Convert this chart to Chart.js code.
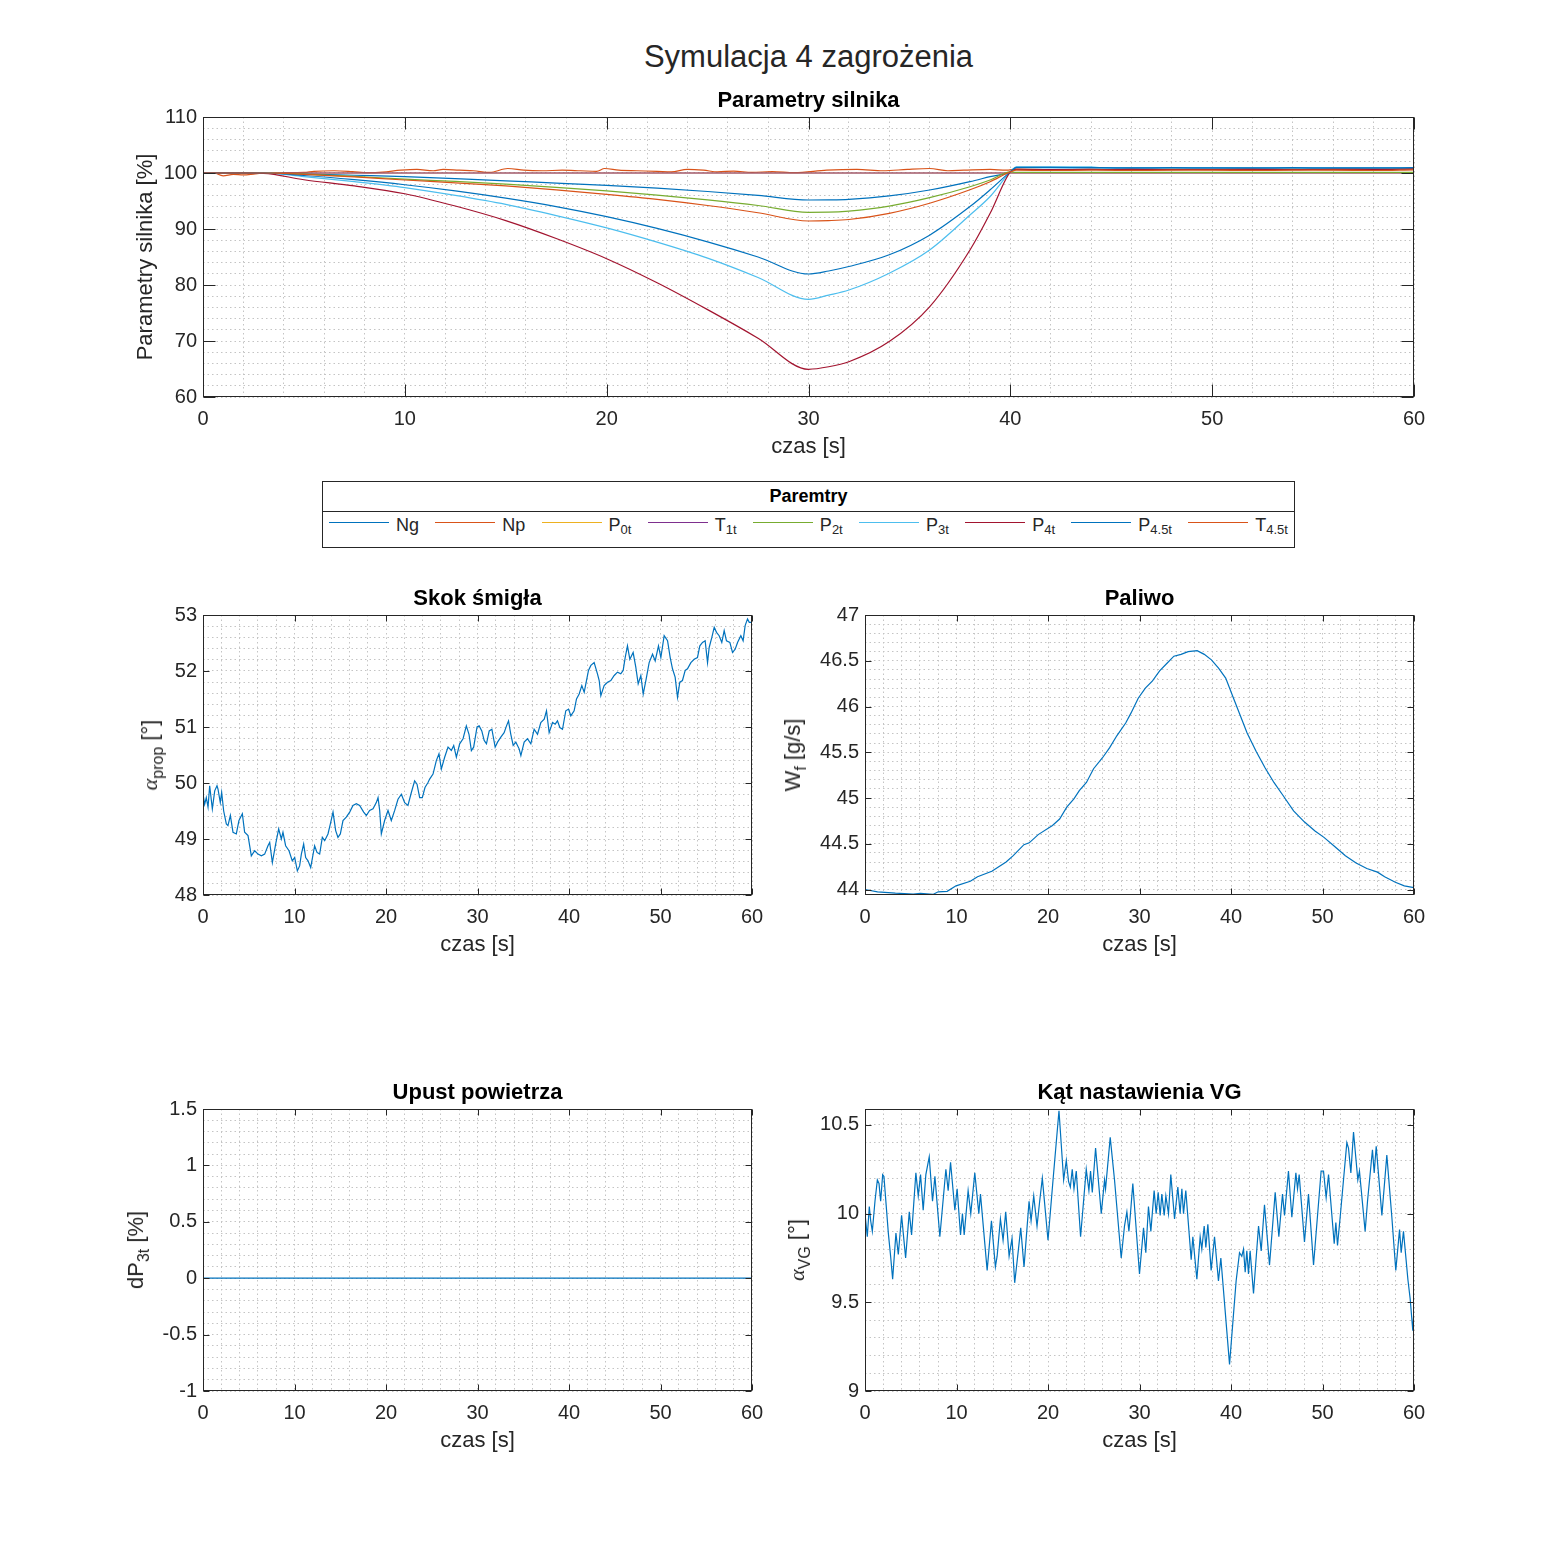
<!DOCTYPE html>
<html lang="pl">
<head>
<meta charset="utf-8">
<title>Symulacja 4 zagrożenia</title>
<script src="https://cdn.jsdelivr.net/npm/chart.js@4.4.1/dist/chart.umd.min.js"></script>
<style>
  html, body { margin: 0; padding: 0; background: #fff; }
  #figura { position: relative; width: 1563px; height: 1563px; overflow: hidden;
            font-family: "Liberation Sans", Arial, Helvetica, sans-serif; color: #262626; }
  .os { position: absolute; }
  .os canvas { display: block; }
  #nadtytul { position: absolute; left: 203px; width: 1211px; top: 39px; text-align: center;
              font-size: 31px; line-height: 36px; color: #262626; }
  .opis-y { position: absolute; transform: translate(-50%, -50%) rotate(-90deg);
            white-space: nowrap; font-size: 22px; line-height: 24px; color: #262626; }
  .opis-y sub { font-size: 16px; vertical-align: -6px; line-height: 0; }
  .grecka { font-family: "Liberation Serif", "DejaVu Serif", serif; font-style: italic; }
  #legenda { position: absolute; left: 322px; top: 481px; width: 973px; height: 67px;
             border: 1px solid #262626; box-sizing: border-box; background: #fff; }
  #legenda .tyt { height: 29px; line-height: 29px; border-bottom: 1px solid #262626; text-align: center;
                  font-weight: bold; font-size: 18px; color: #000; }
  #legenda .wpisy { display: flex; justify-content: space-between; align-items: flex-start;
                    height: 35px; padding: 3px 6px 0 6px; box-sizing: border-box; }
  .wpis { display: flex; align-items: flex-start; font-size: 18px; line-height: 20px; }
  .wpis .kreska { width: 60px; height: 0; border-top: 1.3px solid; margin: 7px 7px 0 0; }
  .wpis sub { font-size: 13px; vertical-align: -3px; line-height: 0; }
</style>
</head>
<body>
<div id="figura">
  <div id="nadtytul">Symulacja 4 zagrożenia</div>
  <div class="os" id="osSilnik"></div>
  <div id="legenda"><div class="tyt">Paremtry</div><div class="wpisy" id="wpisy"></div></div>
  <div class="os" id="osSkok"></div>
  <div class="os" id="osPaliwo"></div>
  <div class="os" id="osUpust"></div>
  <div class="os" id="osVG"></div>
  <div class="opis-y" style="left:150px; top:755px"><span class="grecka">α</span><sub>prop</sub> [°]</div>
  <div class="opis-y" style="left:793px; top:755px">W<sub>f</sub> [g/s]</div>
  <div class="opis-y" style="left:136px; top:1250px">dP<sub>3t</sub> [%]</div>
  <div class="opis-y" style="left:797px; top:1250px"><span class="grecka">α</span><sub>VG</sub> [°]</div>
</div>
<script>
// --- parametry silnika [%] ---
const tSilnik = [0, 2, 3, 5, 7.5, 10, 12.5, 15, 17.5, 20, 22.5, 25, 27.5, 30, 31, 32, 34, 36, 38, 39, 40,
  40.3, 42, 44, 44.5, 46, 48, 50, 52, 54, 56, 58, 60];
const ng = [100, 100, 100, 99.85, 99.6, 99.35, 99.0, 98.6, 98.2, 97.8, 97.3, 96.7, 96.0, 95.18, 95.2, 95.3, 95.9, 96.96, 98.45, 99.35, 100.2,
  100.95, 100.95, 100.95, 100.9, 100.9, 100.9, 100.9, 100.85, 100.85, 100.85, 100.85, 100.9];
const p2t = [100, 100, 100, 99.8, 99.4, 98.9, 98.5, 98.0, 97.45, 96.8, 96.05, 95.2, 94.2, 92.98, 93.0, 93.2, 94.1, 95.6, 97.55, 98.75, 100.2,
  100.1, 100.1, 100.1, 100.1, 100.1, 100.1, 100.1, 100.1, 100.1, 100.1, 100.1, 100.1];
const p3t = [100, 100, 100, 99.35, 98.45, 97.4, 96.0, 94.4, 92.4, 90.2, 87.65, 84.8, 81.35, 77.45, 78.2, 79.1, 82.1, 86.25, 92.5, 95.8, 100.2,
  101.1, 101.1, 101.1, 100.95, 100.9, 100.9, 100.9, 100.9, 100.9, 100.9, 100.9, 100.95];
const p4t = [100, 100, 99.95, 98.8, 97.7, 96.3, 94.1, 91.5, 88.3, 84.7, 80.4, 75.6, 70.5, 64.95, 65.4, 66.3, 69.9, 76.1, 86.25, 92.8, 100.2,
  100.65, 100.6, 100.65, 100.6, 100.7, 100.6, 100.65, 100.7, 100.6, 100.7, 100.65, 100.75];
const p45t = [100, 100, 100, 99.55, 98.8, 97.9, 96.8, 95.5, 94.0, 92.2, 90.1, 87.7, 85.0, 81.96, 82.5, 83.3, 85.4, 88.9, 94.0, 97.0, 100.2,
  101.0, 101.0, 100.95, 100.95, 100.9, 100.95, 100.9, 100.9, 100.95, 100.9, 100.9, 100.95];
const t45t = [100, 100, 100, 99.75, 99.3, 98.75, 98.25, 97.7, 97.0, 96.2, 95.3, 94.2, 92.9, 91.43, 91.5, 91.7, 92.8, 94.6, 97.0, 98.45, 100.2,
  100.5, 100.45, 100.5, 100.5, 100.45, 100.5, 100.5, 100.45, 100.5, 100.5, 100.45, 100.55];
const tNp = [0, 0.5, 1, 1.5, 2, 2.5, 3, 4, 5, 5.5, 6.5, 7.4, 8.2, 8.9, 9.8, 10.6, 11.4, 11.9, 12.7, 13.4,
  14.2, 15.1, 15.9, 16.8, 17.8, 18.7, 19.5, 19.9, 20.6, 21.5, 22.5, 23.2, 24, 24.8, 25.5, 26.3, 27.2, 28.2, 29.3, 30.9,
  32.4, 33.7, 34.9, 36, 36.9, 37.7, 39, 39.8, 40.3, 42, 44, 46, 48, 50, 52, 54, 56, 58, 60];
const np = [100, 100.05, 99.5, 99.75, 99.65, 99.8, 100, 100.05, 100.1, 100.3, 100.4, 100.25, 100.05, 100.15, 100.5, 100.65, 100.4, 100.65, 100.5, 100.4,
  100.1, 100.8, 100.5, 100.4, 100.5, 100.4, 100.3, 100.8, 100.5, 100.4, 100.3, 100.2, 100.65, 100.5, 100.2, 100.35, 100.1, 100.25, 100.05, 100.5,
  100.65, 100.4, 100.65, 100.8, 100.4, 100.5, 100.65, 100.5, 100.7, 100.6, 100.65, 100.6, 100.7, 100.6, 100.65, 100.7, 100.6, 100.7, 100.75];
const tStale = [0, 60];
const p0t = [100, 100];
const t1t = [100, 100];

const nazwy = ['Ng', 'Np', 'P', 'T', 'P', 'P', 'P', 'P', 'T'];
const indeksy = ['', '', '0t', '1t', '2t', '3t', '4t', '4.5t', '4.5t'];
const kolory = ['#0072BD', '#D95319', '#EDB120', '#7E2F8E', '#77AC30', '#4DBEEE', '#A2142F', '#0072BD', '#D95319'];

// --- skok smigla [deg] ---
const tSkok = [0, 0.18, 0.36, 0.55, 0.73, 1.02, 1.28, 1.53, 1.64, 1.89, 2.04, 2.26, 2.55, 2.73, 2.99, 3.28, 3.64, 3.93, 4.30, 4.55,
  4.92, 5.28, 5.65, 6.01, 6.38, 6.74, 7.10, 7.29, 7.58, 7.94, 8.27, 8.56, 8.74, 9.03, 9.40, 9.76, 10.02, 10.31, 10.56, 10.75,
  11.0, 11.22, 11.48, 11.77, 12.2, 12.46, 12.75, 13.04, 13.3, 13.66, 13.92, 14.21, 14.5, 14.75, 15.01, 15.3, 15.66, 16.03, 16.39, 16.76,
  17.12, 17.56, 17.85, 18.21, 18.58, 18.94, 19.13, 19.31, 19.49, 19.85, 20.22, 20.58, 20.95, 21.31, 21.68, 22.04, 22.4, 22.77, 23.13, 23.39,
  23.68, 23.97, 24.26, 24.59, 24.77, 25.14, 25.5, 25.79, 26.05, 26.41, 26.78, 27.14, 27.4, 27.69, 28.05, 28.42, 28.78, 29.07, 29.33, 29.58,
  29.95, 30.18, 30.47, 30.73, 30.98, 31.28, 31.57, 31.93, 32.19, 32.55, 32.91, 33.17, 33.39, 33.64, 33.9, 34.19, 34.55, 34.74, 35.1, 35.46,
  35.83, 36.19, 36.56, 36.92, 37.29, 37.54, 37.83, 38.2, 38.49, 38.74, 39.0, 39.29, 39.65, 39.95, 40.2, 40.56, 40.82, 41.11, 41.4, 41.66,
  41.91, 42.13, 42.39, 42.75, 43.11, 43.3, 43.48, 43.84, 44.21, 44.57, 44.94, 45.3, 45.66, 45.92, 46.14, 46.39, 46.65, 47.01, 47.3, 47.56,
  47.85, 48.11, 48.4, 48.76, 49.13, 49.42, 49.78, 50.04, 50.4, 50.77, 51.06, 51.31, 51.6, 51.86, 52.11, 52.4, 52.7, 52.95, 53.32, 53.68,
  54.04, 54.3, 54.59, 54.88, 55.14, 55.32, 55.61, 55.87, 56.12, 56.41, 56.7, 56.96, 57.21, 57.58, 57.87, 58.16, 58.42, 58.78, 59.03, 59.25,
  59.51, 59.7, 59.96];
const skok = [49.80, 49.62, 49.74, 49.57, 49.95, 49.54, 49.86, 49.95, 49.89, 49.65, 49.83, 49.5, 49.27, 49.24, 49.42, 49.12, 49.09, 49.33, 49.45, 49.12,
  49.06, 48.70, 48.79, 48.73, 48.70, 48.73, 48.88, 48.94, 48.58, 48.91, 49.18, 49.0, 49.12, 48.88, 48.79, 48.61, 48.67, 48.43, 48.52, 48.73,
  48.91, 48.67, 48.61, 48.49, 48.88, 48.76, 48.73, 49.03, 48.97, 49.09, 49.27, 49.48, 49.15, 49.03, 49.09, 49.33, 49.39, 49.48, 49.60, 49.63,
  49.60, 49.48, 49.42, 49.51, 49.54, 49.65, 49.74, 49.51, 49.09, 49.33, 49.51, 49.33, 49.51, 49.71, 49.80, 49.65, 49.60, 49.83, 50.04, 49.98,
  49.74, 49.74, 49.92, 50.01, 50.07, 50.16, 50.40, 50.52, 50.25, 50.46, 50.64, 50.58, 50.67, 50.46, 50.70, 50.79, 51.02, 50.87, 50.58, 50.64,
  51.0, 51.02, 50.93, 50.76, 50.70, 50.93, 50.96, 50.64, 50.73, 50.82, 50.90, 51.02, 51.11, 50.87, 50.67, 50.73, 50.61, 50.49, 50.73, 50.79,
  50.70, 50.96, 50.87, 51.08, 51.14, 51.29, 50.90, 51.08, 51.05, 51.11, 50.99, 50.96, 51.29, 51.32, 51.20, 51.29, 51.50, 51.59, 51.74, 51.62,
  51.83, 52.01, 52.10, 52.15, 51.95, 51.83, 51.56, 51.74, 51.80, 51.83, 51.92, 51.98, 51.95, 52.01, 52.24, 52.45, 52.21, 52.33, 52.07, 51.77,
  51.92, 51.59, 51.83, 52.15, 52.30, 52.18, 52.45, 52.24, 52.63, 52.54, 52.24, 52.04, 51.89, 51.53, 51.80, 51.83, 52.01, 52.04, 52.15, 52.21,
  52.24, 52.45, 52.51, 52.54, 52.15, 52.42, 52.60, 52.78, 52.69, 52.63, 52.51, 52.72, 52.54, 52.51, 52.33, 52.39, 52.51, 52.63, 52.54, 52.81,
  52.93, 52.87, 52.87];

// --- paliwo [g/s] ---
const tPaliwo = [0, 1.37, 3.32, 5.27, 6.05, 7.42, 8.0, 8.98, 9.95, 11.51, 12.3, 13.86, 15.42, 16.2, 17.37, 17.95, 18.93, 20.49, 21.27, 22.05,
  22.83, 23.42, 24.2, 24.98, 25.96, 26.74, 27.52, 28.49, 29.08, 29.86, 30.64, 31.42, 32.2, 32.98, 33.76, 34.54, 35.32, 36.3, 37.08, 37.86,
  38.64, 39.42, 40.2, 40.98, 41.76, 42.74, 43.72, 44.69, 45.67, 46.84, 48.01, 49.18, 50.16, 51.33, 52.5, 53.67, 54.84, 56.01, 56.79, 57.96,
  58.94, 60];
const paliwo = [44.0, 43.975, 43.96, 43.95, 43.957, 43.946, 43.975, 43.98, 44.04, 44.09, 44.14, 44.2, 44.3, 44.37, 44.49, 44.51, 44.6, 44.7, 44.77, 44.9,
  44.99, 45.08, 45.17, 45.32, 45.44, 45.55, 45.68, 45.82, 45.93, 46.09, 46.2, 46.28, 46.39, 46.47, 46.55, 46.57, 46.6, 46.61, 46.57, 46.51,
  46.42, 46.31, 46.11, 45.91, 45.71, 45.51, 45.33, 45.17, 45.03, 44.86, 44.74, 44.64, 44.57, 44.47, 44.37, 44.29, 44.23, 44.19, 44.14, 44.08,
  44.04, 44.02];

// --- upust powietrza [%] ---
const tUpust = [0, 60];
const upust = [0, 0];

// --- kat nastawienia VG [deg] ---
const tVG = [0, 0.25, 0.47, 0.62, 0.8, 1.09, 1.35, 1.53, 1.71, 1.93, 2.07, 2.55, 2.8, 3.02, 3.38, 3.64, 4.0, 4.18, 4.44, 4.84,
  5.09, 5.56, 5.82, 6.07, 6.36, 6.65, 7.02, 7.38, 7.64, 8.18, 8.84, 9.09, 9.35, 9.82, 10.07, 10.44, 10.65, 10.84, 11.27, 11.56,
  12.0, 12.44, 12.62, 13.35, 13.82, 14.25, 14.44, 14.8, 15.09, 15.38, 15.75, 16.07, 16.36, 16.73, 17.02, 17.38, 17.93, 18.15, 18.44, 18.8,
  19.09, 19.38, 20.0, 20.55, 21.2, 21.71, 22.0, 22.25, 22.44, 22.65, 22.84, 23.09, 23.56, 24.18, 24.47, 24.65, 24.84, 25.2, 25.82, 26.18,
  26.29, 26.8, 27.27, 28.0, 28.36, 28.62, 28.84, 28.98, 29.27, 30.0,
  30.44, 30.69, 30.98, 31.24, 31.6, 31.82, 32.04, 32.26, 32.44, 32.7, 32.88, 33.17, 33.42, 33.83, 34.19, 34.44, 34.63, 34.81, 35.06, 35.65,
  35.83, 36.27, 36.63, 36.81, 37.07, 37.25, 37.47, 37.83, 38.2, 38.63, 38.89, 39.84, 40.56, 40.93, 41.18, 41.37, 41.55, 41.73, 41.91, 42.09,
  42.46, 43.01, 43.3, 43.66, 44.21, 44.83, 45.23, 45.63, 45.85, 46.28, 46.65, 47.09, 47.27, 47.45, 48.03, 48.47, 49.02, 49.85, 50.11, 50.4,
  50.66, 51.28, 51.46, 51.64, 51.93, 52.66, 52.84, 53.1, 53.39, 53.86, 54.04, 54.66, 54.92, 55.46, 55.65, 55.87, 56.49, 57.03, 57.58, 58.01,
  58.42, 58.6, 58.85, 59.33, 59.58, 59.87, 60];
const katVG = [10.0, 9.87, 10.04, 9.96, 9.90, 10.07, 10.19, 10.17, 10.07, 10.22, 10.21, 9.89, 9.76, 9.63, 9.89, 9.77, 9.99, 9.89, 9.75, 10.01,
  9.88, 10.23, 10.10, 10.22, 10.02, 10.22, 10.32, 10.07, 10.21, 9.87, 10.25, 10.13, 10.29, 10.02, 10.14, 9.88, 10.0, 9.88, 10.13, 10.0,
  10.23, 10.0, 10.11, 9.68, 9.96, 9.70, 9.76, 9.97, 9.85, 10.01, 9.76, 9.86, 9.61, 9.78, 9.92, 9.70, 10.07, 9.96, 10.10, 9.93,
  10.07, 10.2, 9.85, 10.19, 10.58, 10.19, 10.30, 10.18, 10.15, 10.25, 10.14, 10.24, 9.87, 10.25, 10.13, 10.24, 10.12, 10.37, 10.0, 10.19,
  10.14, 10.43, 10.19, 9.75, 9.93, 10.01, 9.90, 9.98, 10.17, 9.66,
  9.92, 9.78, 10.04, 9.90, 10.13, 10.0, 10.12, 9.99, 10.11, 9.99, 10.10, 10.0, 10.22, 9.97, 10.15, 10.0, 10.14, 10.0, 10.13, 9.74,
  9.87, 9.63, 9.87, 9.80, 9.93, 9.81, 9.94, 9.68, 9.87, 9.62, 9.75, 9.15, 9.62, 9.78, 9.76, 9.80, 9.67, 9.79, 9.66, 9.79,
  9.55, 9.93, 9.79, 10.05, 9.71, 10.12, 9.87, 10.11, 9.99, 10.24, 9.98, 10.23, 10.14, 10.22, 9.84, 10.11, 9.71, 10.24, 10.24, 10.09,
  10.22, 9.83, 9.95, 9.82, 9.98, 10.40, 10.37, 10.23, 10.46, 10.19, 10.24, 9.90, 10.07, 10.36, 10.23, 10.38, 9.99, 10.33, 9.98, 9.68,
  9.91, 9.78, 9.90, 9.63, 9.52, 9.34, 9.46];

const OS_Y = 80, OS_X = 70, TYTUL = 27, PRAWY = 30;

Chart.defaults.font.family = '"Liberation Sans", Arial, Helvetica, sans-serif';
Chart.defaults.color = '#262626';

// ramka i kreski podzialki do srodka, jak w MATLAB-ie
const ramkaMatlab = {
  id: 'ramkaMatlab',
  afterDatasetsDraw(chart, args, o) {
    const { ctx, chartArea: a, scales: { x, y } } = chart;
    const l = Math.round(a.left) + 0.5, r = Math.round(a.right) - 0.5;
    const t = Math.round(a.top) + 0.5, b = Math.round(a.bottom) - 0.5;
    ctx.save();
    ctx.strokeStyle = '#262626';
    ctx.lineWidth = 1;
    ctx.beginPath();
    for (let k = Math.ceil(x.min / o.krokX - 1e-9); k * o.krokX <= x.max + 1e-9; k++) {
      const px = Math.round(x.getPixelForValue(k * o.krokX)) + 0.5;
      ctx.moveTo(px, b); ctx.lineTo(px, b - o.dl);
      ctx.moveTo(px, t); ctx.lineTo(px, t + o.dl);
    }
    for (let k = Math.ceil(y.min / o.krokY - 1e-9); k * o.krokY <= y.max + 1e-9; k++) {
      const py = Math.round(y.getPixelForValue(k * o.krokY)) + 0.5;
      ctx.moveTo(l, py); ctx.lineTo(l + o.dl, py);
      ctx.moveTo(r, py); ctx.lineTo(r - o.dl, py);
    }
    ctx.stroke();
    ctx.strokeRect(l, t, r - l, b - t);
    ctx.restore();
  }
};

// podzialka drobna (siatka pomocnicza) co "krok", w granicach osi
function podzialka(krok) {
  return function (s) {
    const lista = [];
    for (let k = Math.ceil(s.min / krok - 1e-9); k * krok <= s.max + 1e-9; k++) {
      lista.push({ value: Number((k * krok).toFixed(6)) });
    }
    s.ticks = lista;
  };
}

function podpisGlowny(krok) {
  return function (v) {
    const r = v / krok;
    return Math.abs(r - Math.round(r)) < 1e-6 ? String(Number(v.toFixed(3))) : '';
  };
}

function seria(t, v, kolor, etykieta, kolejnosc, gladka) {
  return {
    label: etykieta,
    data: t.map((x, i) => ({ x: x, y: v[i] })),
    borderColor: kolor,
    borderWidth: 1.2,
    pointRadius: 0,
    tension: 0,
    cubicInterpolationMode: gladka ? 'monotone' : 'default',
    order: kolejnosc || 0
  };
}

function rysujWykres(id, pole, u) {
  const el = document.getElementById(id);
  el.style.left = (pole.x - OS_Y) + 'px';
  el.style.top = (pole.y - TYTUL) + 'px';
  el.style.width = (pole.w + OS_Y + PRAWY) + 'px';
  el.style.height = (pole.h + TYTUL + OS_X) + 'px';
  const canvas = document.createElement('canvas');
  el.appendChild(canvas);

  const siatka = { color: '#c4c4c4', lineWidth: 1, drawTicks: false };
  const brzeg = { display: false, dash: [1.5, 3] };

  return new Chart(canvas, {
    type: 'line',
    data: { datasets: u.serie },
    plugins: [ramkaMatlab],
    options: {
      responsive: true,
      maintainAspectRatio: false,
      animation: false,
      events: [],
      layout: { padding: { left: 0, top: 0, right: PRAWY, bottom: 0 } },
      plugins: {
        legend: { display: false },
        tooltip: { enabled: false },
        title: {
          display: true, text: u.tytul, color: '#000', fullSize: false,
          font: { size: 22, weight: 'bold', lineHeight: 1 },
          padding: { top: 0, bottom: TYTUL - 22 }
        },
        ramkaMatlab: { krokX: 10, krokY: u.krokY, dl: u.dlKreski }
      },
      scales: {
        x: {
          type: 'linear', min: 0, max: 60, bounds: 'data',
          afterFit: (s) => { s.height = OS_X; },
          afterBuildTicks: podzialka(2),
          ticks: { autoSkip: false, maxRotation: 0, padding: 10, font: { size: 20 }, callback: podpisGlowny(10) },
          grid: siatka,
          border: brzeg,
          title: { display: true, text: 'czas [s]', font: { size: 22, lineHeight: 1 }, padding: { top: 0, bottom: 9 } }
        },
        y: {
          type: 'linear', min: u.minY, max: u.maxY, bounds: 'data',
          afterFit: (s) => { s.width = OS_Y; },
          afterBuildTicks: podzialka(u.drobnyY),
          ticks: { autoSkip: false, padding: 6, font: { size: 20 }, callback: podpisGlowny(u.krokY) },
          grid: siatka,
          border: brzeg,
          title: u.opisY
            ? { display: true, text: u.opisY, font: { size: 22, lineHeight: 1 }, padding: { top: 12, bottom: 0 } }
            : { display: false }
        }
      }
    }
  });
}

// legenda
const wpisy = document.getElementById('wpisy');
nazwy.forEach((n, i) => {
  const w = document.createElement('div');
  w.className = 'wpis';
  w.innerHTML = '<span class="kreska" style="border-color:' + kolory[i] + '"></span><span>' + n +
    (indeksy[i] ? '<sub>' + indeksy[i] + '</sub>' : '') + '</span>';
  wpisy.appendChild(w);
});

const daneSilnik = [
  [tSilnik, ng], [tNp, np], [tStale, p0t], [tStale, t1t], [tSilnik, p2t],
  [tSilnik, p3t], [tSilnik, p4t], [tSilnik, p45t], [tSilnik, t45t]
];

rysujWykres('osSilnik', { x: 203, y: 117, w: 1211, h: 280 }, {
  tytul: 'Parametry silnika',
  opisY: 'Parametry silnika [%]',
  minY: 60, maxY: 110, krokY: 10, drobnyY: 2, dlKreski: 12,
  serie: daneSilnik.map((d, i) => seria(d[0], d[1], kolory[i], nazwy[i] + indeksy[i], daneSilnik.length - i, true))
});

rysujWykres('osSkok', { x: 203, y: 615, w: 549, h: 280 }, {
  tytul: 'Skok śmigła',
  minY: 48, maxY: 53, krokY: 1, drobnyY: 0.2, dlKreski: 6,
  serie: [seria(tSkok, skok, '#0072BD', 'alfa_prop')]
});

rysujWykres('osPaliwo', { x: 865, y: 615, w: 549, h: 280 }, {
  tytul: 'Paliwo',
  minY: 43.94, maxY: 47, krokY: 0.5, drobnyY: 0.1, dlKreski: 6,
  serie: [seria(tPaliwo, paliwo, '#0072BD', 'W_f')]
});

rysujWykres('osUpust', { x: 203, y: 1109, w: 549, h: 282 }, {
  tytul: 'Upust powietrza',
  minY: -1, maxY: 1.5, krokY: 0.5, drobnyY: 0.1, dlKreski: 6,
  serie: [seria(tUpust, upust, '#0072BD', 'dP_3t')]
});

rysujWykres('osVG', { x: 865, y: 1109, w: 549, h: 282 }, {
  tytul: 'Kąt nastawienia VG',
  minY: 9, maxY: 10.59, krokY: 0.5, drobnyY: 0.1, dlKreski: 6,
  serie: [seria(tVG, katVG, '#0072BD', 'alfa_VG')]
});
</script>
</body>
</html>
